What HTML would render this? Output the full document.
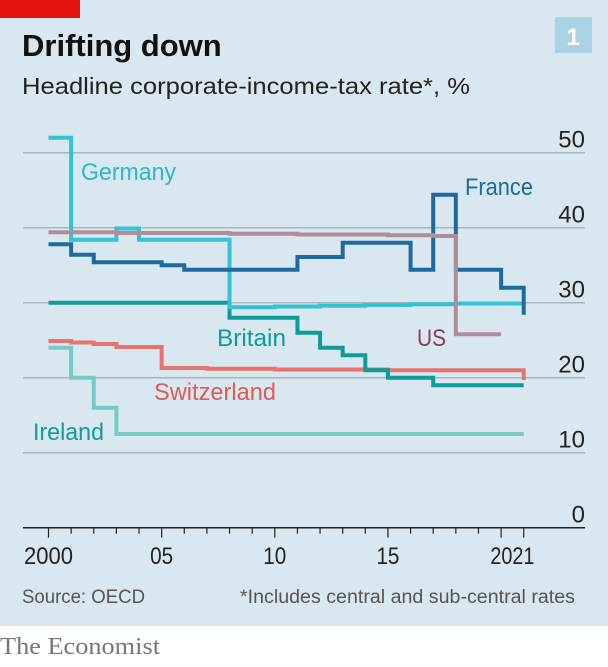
<!DOCTYPE html>
<html><head><meta charset="utf-8"><style>
body{margin:0;width:608px;height:662px;overflow:hidden;background:#fff;font-family:"Liberation Sans",sans-serif}
</style></head><body>
<svg width="608" height="662" xmlns="http://www.w3.org/2000/svg">
<rect x="0" y="0" width="608" height="626" fill="#d9e8f0"/>
<rect x="0" y="0" width="80" height="18" fill="#e3120b"/>
<rect x="555" y="17" width="37" height="36" fill="#a9d3e4"/>
<text x="573" y="45" fill="#fff" font-size="24" font-weight="bold" text-anchor="middle">1</text>
<text x="22" y="56" fill="#111" font-size="31" font-weight="bold">Drifting down</text>
<text x="22" y="94" fill="#222" font-size="23" textLength="448" lengthAdjust="spacingAndGlyphs">Headline corporate-income-tax rate*, %</text>
<g id="grid"></g>
<g id="series"></g>
<g id="labels"></g>
<text x="22" y="603" fill="#555" font-size="19" textLength="123" lengthAdjust="spacingAndGlyphs">Source: OECD</text>
<text x="575" y="603" fill="#555" font-size="19" text-anchor="end" textLength="335" lengthAdjust="spacingAndGlyphs">*Includes central and sub-central rates</text>
<text x="0" y="654" fill="#777" font-size="24" font-family="Liberation Serif,serif" textLength="160" lengthAdjust="spacingAndGlyphs">The Economist</text>
</svg>
<script>
const yTicks=[0,10,20,30,40,50];
const xTickYears=[2000,2005,2010,2015,2020,2021];
const xTickLabels=["2000","05","10","15","20","21"];
const germany=[52,38.4,38.4,39.9,38.4,38.4,38.4,38.4,29.4,29.4,29.5,29.5,29.6,29.6,29.7,29.7,29.8,29.8,29.9,29.9,29.9,29.9];
const france=[37.8,36.4,35.4,35.4,35.4,35.0,34.4,34.4,34.4,34.4,34.4,36.1,36.1,38.0,38.0,38.0,34.4,44.4,34.4,34.4,32.0,28.4];
const usa=[39.4,39.4,39.4,39.3,39.3,39.3,39.3,39.3,39.2,39.2,39.2,39.1,39.1,39.1,39.1,39.0,39.0,38.9,25.8,25.8,25.8];
const britain=[30,30,30,30,30,30,30,30,28,28,28,26,24,23,21,20,20,19,19,19,19,19];
const switzerland=[24.9,24.7,24.5,24.1,24.1,21.3,21.3,21.2,21.2,21.2,21.1,21.1,21.1,21.1,21.1,21.0,21.0,21.0,21.0,21.0,21.0,19.7];
const ireland=[24,20,16,12.5,12.5,12.5,12.5,12.5,12.5,12.5,12.5,12.5,12.5,12.5,12.5,12.5,12.5,12.5,12.5,12.5,12.5,12.5];
const NS="http://www.w3.org/2000/svg";
const xs=y=>48.5+22.63*(y-2000);
const ys=v=>527.7-7.5*v;
const grid=document.getElementById('grid');
yTicks.forEach(t=>{
  if(t>0){const l=document.createElementNS(NS,'line');
  l.setAttribute('x1',23);l.setAttribute('x2',585);l.setAttribute('y1',ys(t));l.setAttribute('y2',ys(t));
  l.setAttribute('stroke','#a9b6be');l.setAttribute('stroke-width','1.5');
  
  
  grid.appendChild(l);}
  const tx=document.createElementNS(NS,'text');
  tx.setAttribute('x',585);tx.setAttribute('y',ys(t)-5);tx.setAttribute('text-anchor','end');
  tx.setAttribute('font-size','24');tx.setAttribute('fill','#222');tx.textContent=t;
  
  
  grid.appendChild(tx);
});
const ax=document.createElementNS(NS,'line');
ax.setAttribute('x1',23);ax.setAttribute('x2',585);ax.setAttribute('y1',ys(0));ax.setAttribute('y2',ys(0));
ax.setAttribute('stroke','#222');ax.setAttribute('stroke-width','1.5');


grid.appendChild(ax);
for(let y=2000;y<=2021;y++){
  const big=xTickYears.includes(y);
  const t=document.createElementNS(NS,'line');
  t.setAttribute('x1',xs(y));t.setAttribute('x2',xs(y));t.setAttribute('y1',ys(0));t.setAttribute('y2',ys(0)+(big?10:6));
  t.setAttribute('stroke','#222');t.setAttribute('stroke-width','1.2');
  
  
  grid.appendChild(t);
}
const lab=[["2000",2000,49],["05",2005,23],["10",2010,23],["15",2015,23],["2021",2020.5,44]];
lab.forEach(([s,y,w])=>{
  const tx=document.createElementNS(NS,'text');
  tx.setAttribute('x',xs(y)-w/2);tx.setAttribute('y',564);
  tx.setAttribute('font-size','24');tx.setAttribute('fill','#222');
  tx.setAttribute('textLength',w);tx.setAttribute('lengthAdjust','spacingAndGlyphs');tx.textContent=s;
  
  
  grid.appendChild(tx);
});
const series=[["ireland",ireland,"#76cbc4"],["switzerland",switzerland,"#e8726e"],["britain",britain,"#0e9b9a"],["germany",germany,"#33c2d6"],["france",france,"#1d6aa0"],["us",usa,"#b18d9b"]];
const sg=document.getElementById('series');
series.forEach(([n,d,c])=>{
  let p='';
  d.forEach((v,i)=>{
    const yr=2000+i;
    if(i===0)p+='M'+xs(yr)+' '+ys(v);
    else p+=' L'+xs(yr)+' '+ys(d[i-1])+' L'+xs(yr)+' '+ys(v);
  });
  const path=document.createElementNS(NS,'path');
  path.setAttribute('d',p);path.setAttribute('fill','none');path.setAttribute('stroke',c);path.setAttribute('stroke-width','4');
  
  
  sg.appendChild(path);
});
const labels=[["Germany",81,180,95,"#2bb8cc"],["France",465,195,68,"#1d6aa0"],["Britain",217,346,69,"#0e9b9a"],["US",417,346,29,"#8b3a5a"],["Switzerland",154,400,122,"#e05a57"],["Ireland",33,440,71,"#129a98"]];
const lg=document.getElementById('labels');
labels.forEach(([s,x,y,w,c])=>{
  const tx=document.createElementNS(NS,'text');
  tx.setAttribute('x',x);tx.setAttribute('y',y);tx.setAttribute('font-size','24');tx.setAttribute('fill',c);
  tx.setAttribute('textLength',w);tx.setAttribute('lengthAdjust','spacingAndGlyphs');tx.textContent=s;
  
  
  lg.appendChild(tx);
});
</script>
</body></html>
